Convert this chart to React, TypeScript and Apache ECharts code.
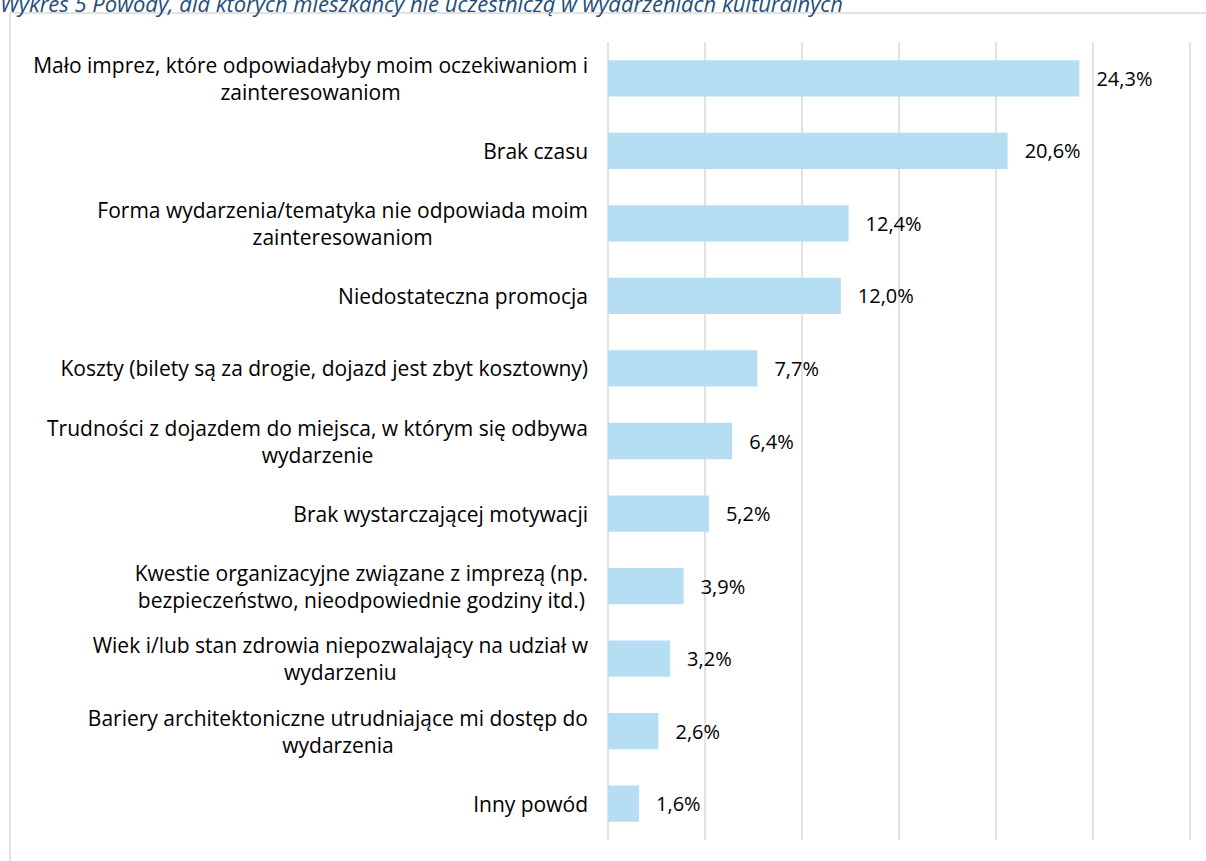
import React, { useEffect, useRef } from "react";
import * as echarts from "echarts";

const TITLE = "Wykres 5 Powody, dla których mieszkańcy nie uczestniczą w wydarzeniach kulturalnych";

const categories = [
  "Mało imprez, które odpowiadałyby moim oczekiwaniom i\nzainteresowaniom",
  "Brak czasu",
  "Forma wydarzenia/tematyka nie odpowiada moim\nzainteresowaniom",
  "Niedostateczna promocja",
  "Koszty (bilety są za drogie, dojazd jest zbyt kosztowny)",
  "Trudności z dojazdem do miejsca, w którym się odbywa\nwydarzenie",
  "Brak wystarczającej motywacji",
  "Kwestie organizacyjne związane z imprezą (np.\nbezpieczeństwo, nieodpowiednie godziny itd.)",
  "Wiek i/lub stan zdrowia niepozwalający na udział w\nwydarzeniu",
  "Bariery architektoniczne utrudniające mi dostęp do\nwydarzenia",
  "Inny powód",
];

const values = [24.3, 20.6, 12.4, 12.0, 7.7, 6.4, 5.2, 3.9, 3.2, 2.6, 1.6];

const FONT = "'Open Sans', Lato, sans-serif";
const FS = 21;

export default function App() {
  const ref = useRef<HTMLDivElement>(null);
  useEffect(() => {
    if (!ref.current) return;
    const chart = echarts.init(ref.current, undefined, { renderer: "svg" });
    chart.setOption({
      animation: false,
      textStyle: { fontFamily: FONT },
      graphic: [
        {
          type: "rect",
          shape: { x: 10, y: 13, width: 1220, height: 880 },
          style: { fill: "none", stroke: "#d9d9d9", lineWidth: 1.5 },
          silent: true,
        },
        {
          type: "text",
          x: 0,
          y: 14,
          style: {
            text: TITLE,
            fontFamily: FONT,
            fontStyle: "italic",
            fontSize: 22,
            fill: "#1F4E79",
            verticalAlign: "bottom",
          },
        },
      ],
      grid: { left: 608, right: 16, top: 42, bottom: 21, containLabel: false },
      xAxis: {
        type: "value",
        min: 0,
        max: 30,
        interval: 5,
        axisLabel: { show: false },
        axisLine: { show: false },
        axisTick: { show: false },
        splitLine: { show: true, lineStyle: { color: "#d9d9d9", width: 1.5 } },
      },
      yAxis: {
        type: "category",
        inverse: true,
        data: categories,
        axisLine: { show: false },
        axisTick: { show: false },
        axisLabel: {
          margin: 20,
          align: "right",
          color: "#000",
          formatter: (v: string) =>
            v
              .split("\n")
              .map((l) => `{c|${l}}`)
              .join("\n"),
          rich: {
            c: {
              align: "center",
              fontSize: FS,
              lineHeight: 27,
              fontFamily: FONT,
              color: "#000",
            },
          },
        },
      },
      series: [
        {
          type: "bar",
          data: values,
          barCategoryGap: "50%",
          itemStyle: { color: "#B5DEF3" },
          label: {
            show: true,
            position: "right",
            distance: 17,
            fontSize: 20,
            color: "#000",
            fontFamily: FONT,
            formatter: (p: any) => p.value.toFixed(1).replace(".", ",") + "%",
          },
        },
      ],
    });
    return () => chart.dispose();
  }, []);
  return <div ref={ref} style={{ width: 1206, height: 861, position: "absolute", left: 0, top: 0 }} />;
}
